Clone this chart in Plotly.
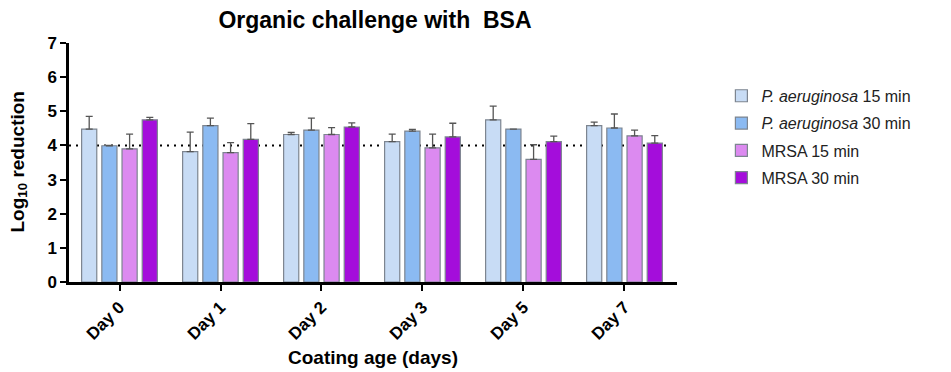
import plotly.graph_objects as go

categories = ["Day 0", "Day 1", "Day 2", "Day 3", "Day 5", "Day 7"]
series_names = ["<i>P. aeruginosa</i> 15 min", "<i>P. aeruginosa</i> 30 min",
                "MRSA 15 min", "MRSA 30 min"]
pa15 = [4.48, 3.82, 4.32, 4.11, 4.75, 4.58]
pa30 = [3.99, 4.58, 4.45, 4.42, 4.48, 4.51]
mrsa15 = [3.90, 3.79, 4.32, 3.93, 3.59, 4.28]
mrsa30 = [4.75, 4.18, 4.54, 4.25, 4.11, 4.07]
pa15_err = [0.37, 0.57, 0.06, 0.22, 0.40, 0.10]
pa30_err = [0.01, 0.22, 0.35, 0.05, 0.0, 0.41]
mrsa15_err = [0.43, 0.29, 0.20, 0.40, 0.43, 0.17]
mrsa30_err = [0.07, 0.46, 0.12, 0.40, 0.16, 0.22]
threshold = 4

colors = ["#c8dcf5", "#8bbaf2", "#dc8af0", "#a40ddb"]
values = [pa15, pa30, mrsa15, mrsa30]
errs = [pa15_err, pa30_err, mrsa15_err, mrsa30_err]

FONT = "Liberation Sans, Arial, sans-serif"

fig = go.Figure()
for i, (name, v, e, c) in enumerate(zip(series_names, values, errs, colors)):
    fig.add_trace(go.Bar(
        x=categories, y=v, name=name, legendgroup=f"g{i}",
        marker=dict(color=c, line=dict(color="#7d8590", width=1.2)),
        error_y=dict(type="data", array=e, arrayminus=[0] * len(e), symmetric=False,
                     color="#555555", thickness=1.3, width=3.5),
    ))

fig.add_shape(type="line", xref="x", yref="y", x0=-0.5, x1=5.45, y0=threshold, y1=threshold,
              line=dict(color="black", width=2, dash="2px,5px"), layer="below")

fig.add_annotation(text="<b>Coating age (days)</b>", xref="paper", yref="paper",
                   x=0.5, y=-75 / 239, xanchor="center", yanchor="middle",
                   showarrow=False, font=dict(size=19, color="black", family=FONT))
fig.add_annotation(text="<b>Log<sub>10</sub> reduction</b>", xref="paper", yref="paper",
                   x=-51 / 608, y=0.5, xanchor="center", yanchor="middle", textangle=-90,
                   showarrow=False, font=dict(size=19, color="black", family=FONT))

# the page body has an 8px margin; the figure is sized/offset to compensate
fig.update_layout(
    width=943, height=364,
    margin=dict(l=61, r=274, t=35, b=90),
    plot_bgcolor="white", paper_bgcolor="white",
    barmode="group", bargap=0.2, bargroupgap=0.25,
    font=dict(family=FONT, color="black"),
    title=dict(text="<b>Organic challenge with  BSA</b>", x=367 / 943, xanchor="center",
               yref="container", y=1 - 12 / 364, yanchor="middle",
               font=dict(size=23, color="black")),
    legend=dict(x=1.073, y=0.85, xanchor="left", yanchor="top",
                font=dict(size=16, color="#222222"), tracegroupgap=3.5,
                itemwidth=30, bgcolor="rgba(0,0,0,0)"),
    showlegend=True,
)
fig.update_xaxes(
    range=[-0.5, 5.52], showline=True, linecolor="black", linewidth=2.5,
    ticks="outside", ticklen=6, tickwidth=2, tickcolor="black",
    tickangle=-45, tickfont=dict(size=17, color="black", family=FONT),
    tickprefix="<b>", ticksuffix="</b>",
    showgrid=False, zeroline=False, automargin=False,
)
fig.update_yaxes(
    range=[0, 7], dtick=1, showline=True, linecolor="black", linewidth=2.5,
    ticks="outside", ticklen=6, tickwidth=2, tickcolor="black",
    tickfont=dict(size=17, color="black"), tickprefix="<b>", ticksuffix="</b>",
    showgrid=False, zeroline=False, automargin=False,
)

fig.write_html("out.html")
